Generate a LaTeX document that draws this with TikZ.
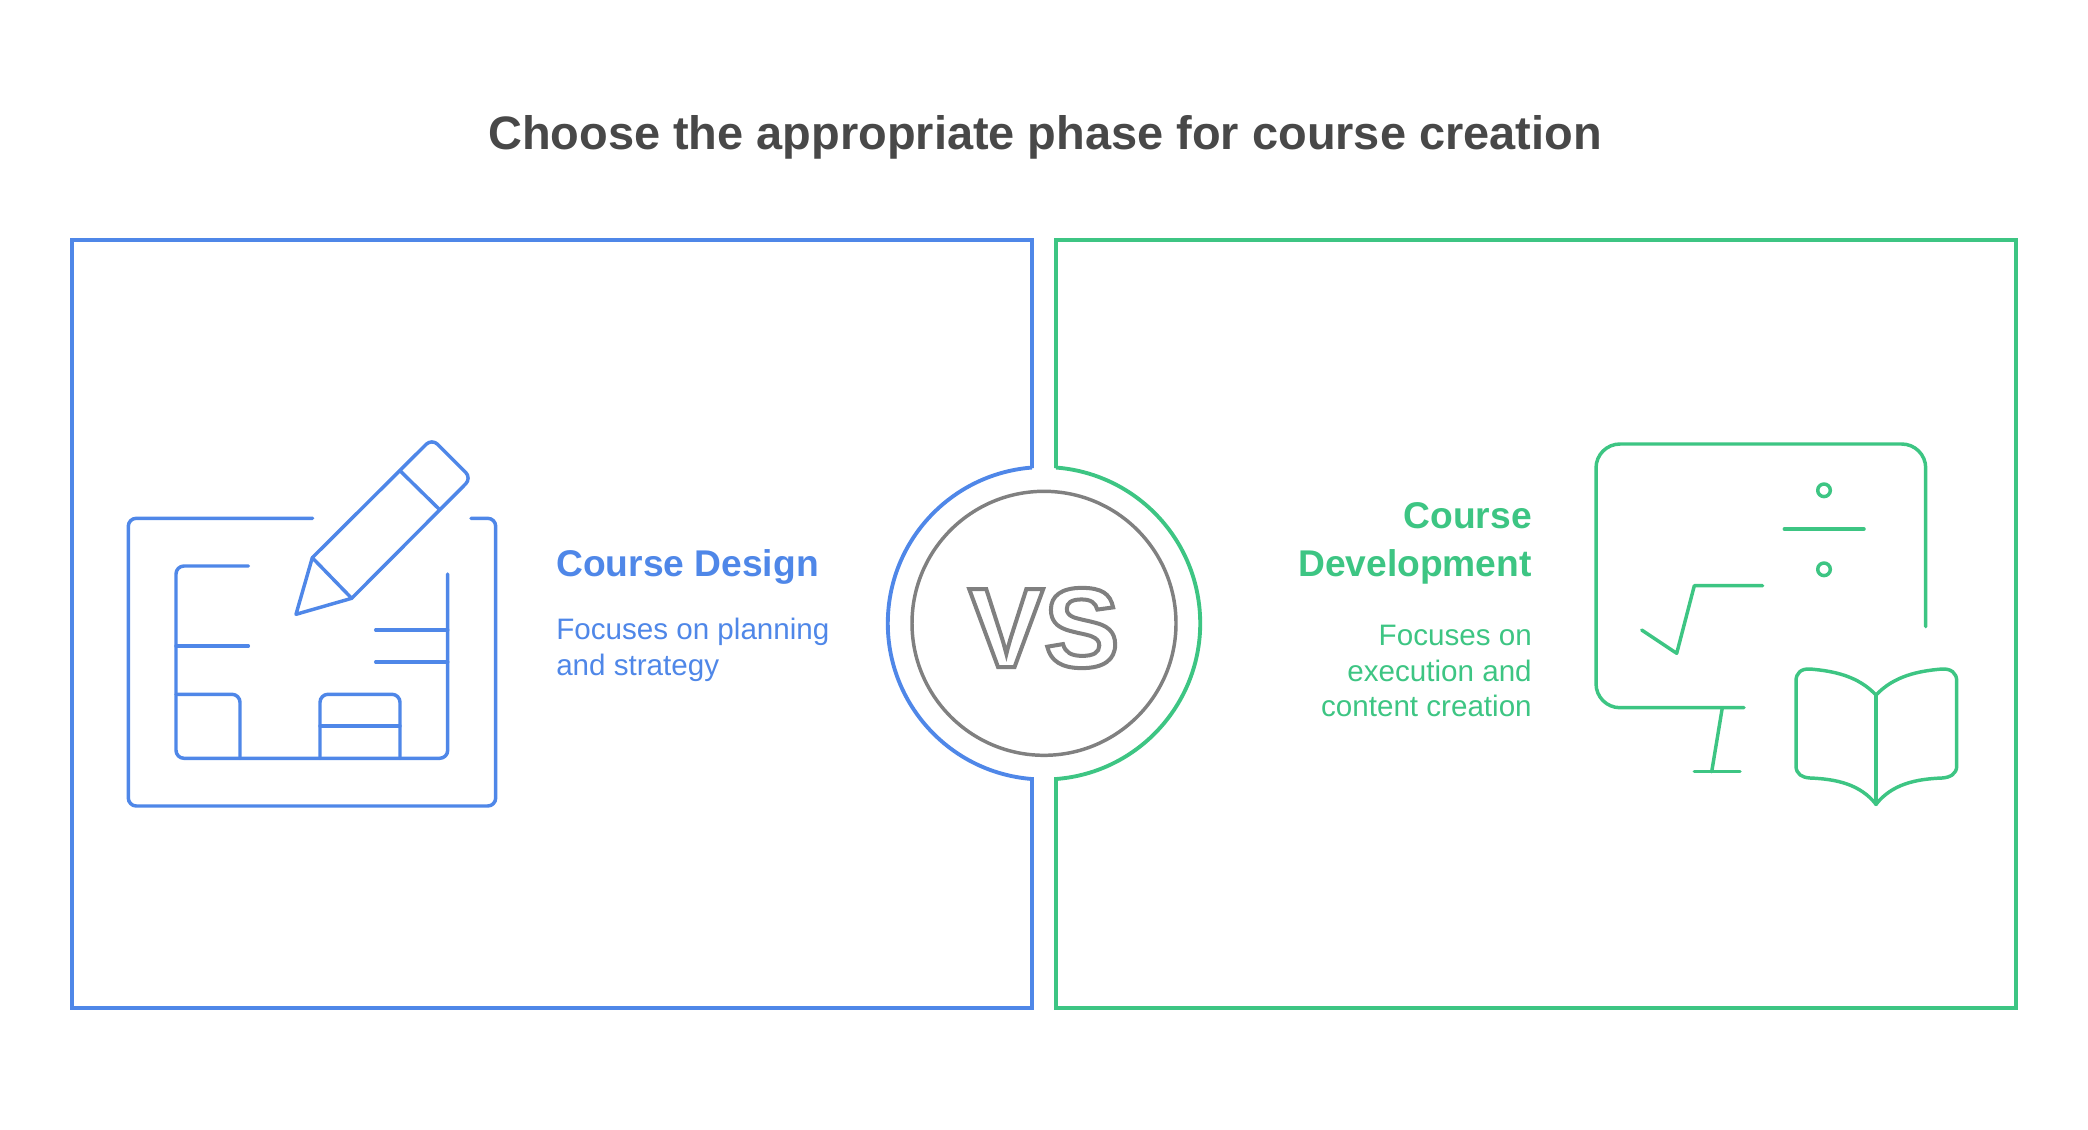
\documentclass[tikz,border=0pt]{standalone}
\usepackage{fontspec}
\setmainfont{Liberation Sans}
\definecolor{bluec}{HTML}{4F87E8}
\definecolor{greenc}{HTML}{3DC583}
\definecolor{grayc}{HTML}{808080}
\definecolor{titlec}{HTML}{484848}
\newcommand{\outlinedtext}[1]{\special{pdf:literal direct 1 Tr 3 w 0.5 0.5 0.5 RG}#1\special{pdf:literal direct 0 Tr 1 w}}
\tikzset{
  frameline/.style={line width=2.9pt,line join=miter},
  iconline/.style={line width=2.6pt,line cap=round,line join=round},
  titletext/.style={font=\bfseries\fontsize{35.2}{40}\selectfont,text=titlec,inner sep=0pt,anchor=base},
  headtext/.style={font=\bfseries\fontsize{27.9}{36}\selectfont,inner sep=0pt},
  bodytext/.style={font=\fontsize{22.2}{26.7}\selectfont,inner sep=0pt},
}
\begin{document}
\begin{tikzpicture}[x=0.75pt,y=-0.75pt]
\useasboundingbox (0,0) rectangle (2088,1129);
\node[titletext] (title) at (1045,149) {Choose the appropriate phase for course creation};

% panels
\draw[frameline,bluec] (1032,468) -- (1032,240) -- (72,240) -- (72,1008) -- (1032,1008) -- (1032,779)
  arc[start angle=94.4,end angle=265.6,radius=156.2];
\draw[frameline,greenc] (1056,468) -- (1056,240) -- (2016,240) -- (2016,1008) -- (1056,1008) -- (1056,779)
  arc[start angle=85.6,end angle=-85.6,radius=156.2];

% VS
\node[circle,draw=grayc,line width=2.6pt,minimum size=198pt,inner sep=0pt] (vscircle) at (1044,623.3) {};
\node[inner sep=0pt,anchor=base,font=\bfseries\fontsize{85}{85}\selectfont] (vs) at (1044,667) {\outlinedtext{VS}};

% left text
\node[headtext,text=bluec,anchor=base west] (lhead) at (556,576.7) {Course Design};
\node[bodytext,text=bluec,anchor=base west] (lbody1) at (556,639.3) {Focuses on planning};
\node[bodytext,text=bluec,anchor=base west] (lbody2) at (556,675) {and strategy};

% right text
\node[headtext,text=greenc,anchor=base east] (rhead1) at (1532,528.3) {Course};
\node[headtext,text=greenc,anchor=base east] (rhead2) at (1532,576) {Development};
\node[bodytext,text=greenc,anchor=base east] (rbody1) at (1532,645.7) {Focuses on};
\node[bodytext,text=greenc,anchor=base east] (rbody2) at (1532,681.7) {execution and};
\node[bodytext,text=greenc,anchor=base east] (rbody3) at (1532,716.7) {content creation};

% design icon
\begin{scope}[iconline,bluec]
  \draw[rounded corners=6pt] (312.7,518.3) -- (128.3,518.3) -- (128.3,806) -- (495.7,806) -- (495.7,518.3) -- (471,518.3);
  \draw[rounded corners=6pt] (248.3,566) -- (176,566) -- (176,758.3) -- (447.7,758.3) -- (447.7,574);
  \draw (176,646) -- (248.3,646);
  \draw[rounded corners=6pt] (176,694.3) -- (240,694.3) -- (240,758.3);
  \draw[rounded corners=6pt] (320,758.3) -- (320,694.3) -- (400,694.3) -- (400,758.3);
  \draw (320,726) -- (400,726);
  \draw (375.7,630) -- (447.7,630);
  \draw (375.7,662) -- (447.7,662);
  \draw (351.7,598.3) -- (296,614.3) -- (312.3,557.7) -- cycle;
  \draw[rounded corners=6pt] (312.3,557.7) -- (431.9,438.6) -- (471.4,478.1) -- (351.7,598.3);
  \draw (400,470.7) -- (439.3,509.3);
\end{scope}

% development icon
\begin{scope}[iconline,greenc]
  \draw[rounded corners=18pt] (1744,707.7) -- (1596,707.7) -- (1596,444) -- (1925.7,444) -- (1925.7,626.7);
  \draw (1722.3,707.7) -- (1711.7,771.7);
  \draw (1694.3,771.7) -- (1740,771.7);
  \draw (1824,490.3) circle[radius=6.3];
  \draw (1824,569.3) circle[radius=6.3];
  \draw (1784.3,529) -- (1864,529);
  \draw (1641.7,630) -- (1676.7,653.3) -- (1694.3,585.7) -- (1762.7,585.7);
  \draw (1876,695) -- (1876,804.3);
  \draw (1876,695) .. controls (1858,676) and (1834,671) .. (1810,669)
    .. controls (1801,668.5) and (1796,673) .. (1796,681) -- (1796,766)
    .. controls (1796,774) and (1802,777.5) .. (1810,778)
    .. controls (1836,779) and (1860,784) .. (1876,804.3)
    .. controls (1892,784) and (1916,779) .. (1942,778)
    .. controls (1950,777.5) and (1956.7,774) .. (1956.7,766) -- (1956.7,681)
    .. controls (1956.7,673) and (1951,668.5) .. (1942,669)
    .. controls (1918,671) and (1894,676) .. (1876,695) -- cycle;
\end{scope}
\end{tikzpicture}
\end{document}
